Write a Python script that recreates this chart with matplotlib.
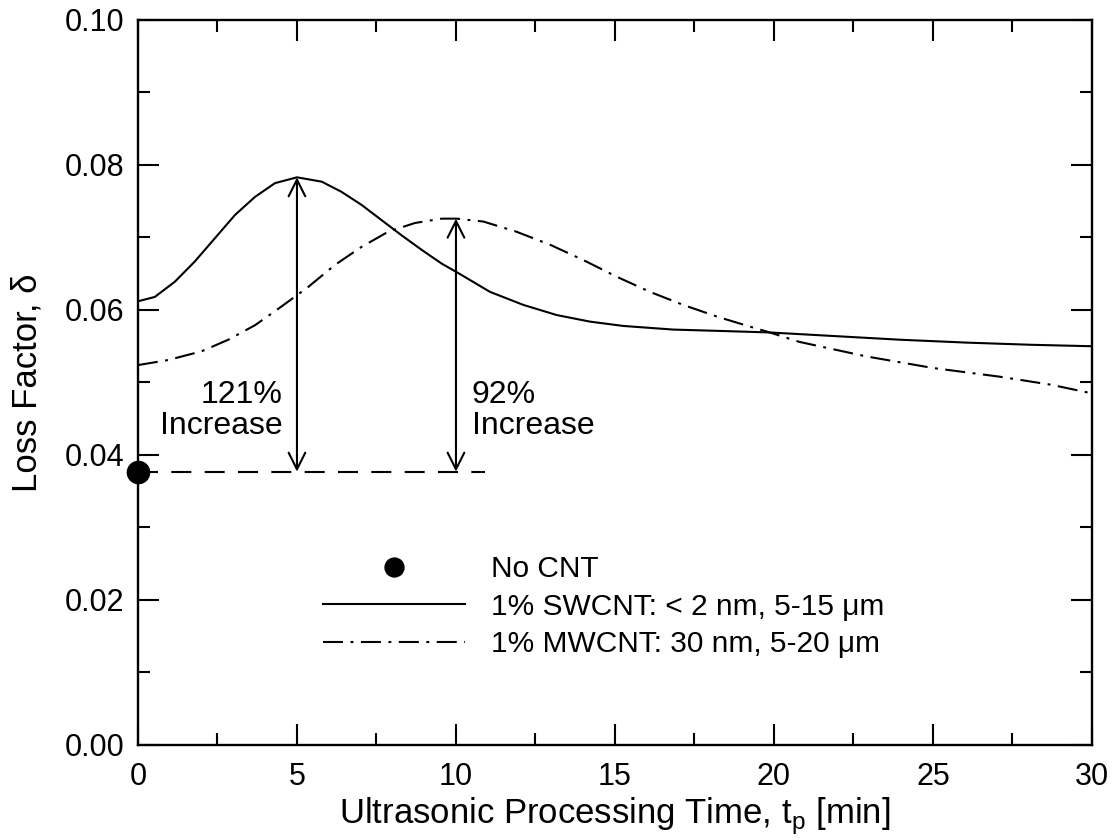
import numpy as np
import matplotlib
matplotlib.use("Agg")
import matplotlib.pyplot as plt
from matplotlib.ticker import MultipleLocator, FormatStrFormatter

plt.rcParams["font.family"] = ["Liberation Sans", "DejaVu Sans"]

# values
swcnt_t = [0, 0.53, 1.16, 1.79, 2.42, 3.05, 3.68, 4.31, 5.0, 5.78, 6.4, 7.03, 7.66, 8.29,
           8.92, 9.55, 10.07, 11.07, 12.12, 13.17, 14.21, 15.26, 16.83, 18.4, 19.87,
           23.96, 26.06, 28.1, 30]
swcnt_d = [0.0612, 0.0618, 0.0639, 0.0667, 0.0699, 0.0731, 0.0756, 0.0775, 0.0783, 0.0777,
           0.0763, 0.0745, 0.0724, 0.0703, 0.0683, 0.0664, 0.0651, 0.0625, 0.0607, 0.0593,
           0.0584, 0.0578, 0.0573, 0.0571, 0.0569, 0.0559, 0.0555, 0.0552, 0.0550]

mwcnt_t = [0, 0.95, 2.0, 2.84, 3.68, 4.52, 5.36, 6.19, 7.03, 7.87, 8.71, 9.55, 10.02,
           10.86, 11.9, 12.96, 14.0, 15.05, 16.1, 17.15, 18.2, 19.25, 19.87, 20.8, 22.9,
           25.0, 27.1, 28.7, 30]
mwcnt_d = [0.0524, 0.0531, 0.0543, 0.0559, 0.0579, 0.0605, 0.0632, 0.0662, 0.0687, 0.0708,
           0.0720, 0.0726, 0.0726, 0.0722, 0.0708, 0.0690, 0.0669, 0.0646, 0.0625, 0.0607,
           0.0591, 0.0577, 0.0569, 0.0556, 0.0536, 0.0520, 0.0508, 0.0497, 0.0485]

no_cnt_t = [0]
no_cnt_d = [0.0377]
baseline_t = [0, 10.9]

peak_t = [5, 10]
peak_d = [0.0783, 0.0726]
increase_labels = ["121%\nIncrease", "92%\nIncrease"]

legend_labels = ["No CNT", "1% SWCNT: < 2 nm, 5-15 \u03bcm", "1% MWCNT: 30 nm, 5-20 \u03bcm"]

fig = plt.figure(figsize=(11.17, 8.4), dpi=100)
ax = fig.add_axes([0.1235, 0.1131, 0.8541, 0.8631])

dashdot = (0, (9.6, 3.6, 1.4, 3.6))

h1, = ax.plot(no_cnt_t, no_cnt_d, "o", color="black", markersize=16, clip_on=False, zorder=5)
h2, = ax.plot(swcnt_t, swcnt_d, "-", color="black", lw=1.5)
h3, = ax.plot(mwcnt_t, mwcnt_d, linestyle=dashdot, color="black", lw=1.5)
ax.plot(baseline_t, [no_cnt_d[0]] * 2, linestyle=(0, (9.6, 6.4)), color="black", lw=1.5)

for t, d in zip(peak_t, peak_d):
    ax.annotate("", xy=(t, d), xytext=(t, no_cnt_d[0]),
                arrowprops=dict(arrowstyle="<->", color="black", lw=1.5,
                                shrinkA=0, shrinkB=0, mutation_scale=30))

ax.text(peak_t[0] - 0.45, 0.0461, increase_labels[0], ha="right", va="center",
        fontsize=23, linespacing=1.03)
ax.text(peak_t[1] + 0.5, 0.0461, increase_labels[1], ha="left", va="center",
        fontsize=23, linespacing=1.03)

ax.set_xlim(0, 30)
ax.set_ylim(0, 0.10)
ax.xaxis.set_major_locator(MultipleLocator(5))
ax.xaxis.set_minor_locator(MultipleLocator(2.5))
ax.yaxis.set_major_locator(MultipleLocator(0.02))
ax.yaxis.set_minor_locator(MultipleLocator(0.01))
ax.yaxis.set_major_formatter(FormatStrFormatter("%.2f"))

ax.tick_params(which="both", direction="in", top=True, right=True, width=1.5, labelsize=22)
ax.tick_params(which="major", length=15)
ax.tick_params(which="minor", length=8.5)
ax.tick_params(axis="x", which="major", pad=12)
ax.tick_params(axis="y", which="major", pad=10)
for s in ax.spines.values():
    s.set_linewidth(1.7)

ax.set_xlabel(r"Ultrasonic Processing Time, t$_\mathregular{p}$ [min]", fontsize=25, labelpad=3)
ax.set_ylabel("Loss Factor, \u03b4", fontsize=25, labelpad=15)

ax.legend([h1, h2, h3], legend_labels, loc="upper left", bbox_to_anchor=(0.194, 0.262),
          frameon=False, fontsize=21.5, handlelength=4.76, handletextpad=0.87,
          labelspacing=0.32, borderpad=0, borderaxespad=0, markerscale=0.85)

fig.savefig("out.png", dpi=100)
